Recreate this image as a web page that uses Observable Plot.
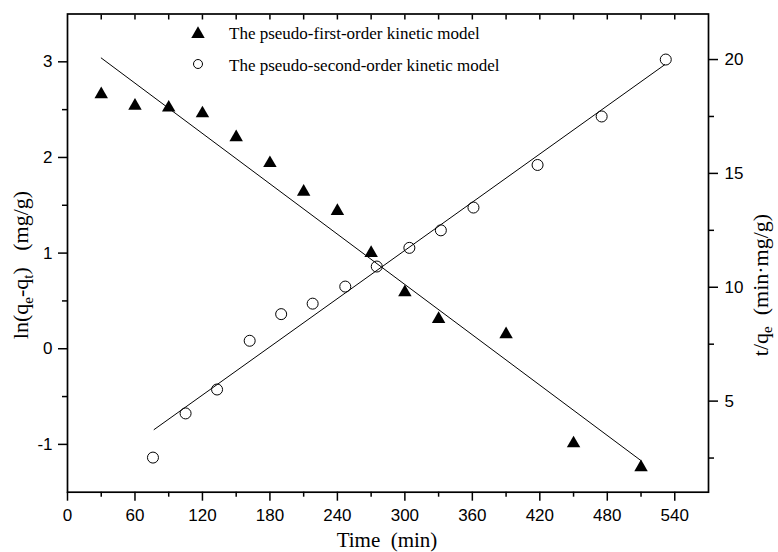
<!DOCTYPE html>
<html><head><meta charset="utf-8">
<script src="https://cdn.jsdelivr.net/npm/d3@7"></script>
<script src="https://cdn.jsdelivr.net/npm/@observablehq/plot@0.6"></script>
<style>
body{margin:0;background:#fff}
#chart{position:relative;width:778px;height:552px}
</style>
</head><body><div id="chart"></div>
<script>
// pseudo-first-order: ln(qe-qt) vs time (left axis)
const timeFirst = [30, 60, 90, 120, 150, 180, 210, 240, 270, 300, 330, 390, 450, 510];
const lnFirst   = [2.66, 2.54, 2.52, 2.46, 2.21, 1.94, 1.64, 1.44, 1.00, 0.59, 0.31, 0.15, -0.99, -1.24];
// pseudo-second-order: t/qt vs time (right axis)
const timeSecond = [76, 105, 133, 162, 190, 218, 247, 275, 304, 332, 361, 418, 475, 532];
const tqSecond   = [2.52, 4.46, 5.51, 7.65, 8.82, 9.28, 10.03, 10.91, 11.73, 12.50, 13.50, 15.37, 17.50, 20.00];
// fitted lines (end points)
const fitFirstX  = [30, 510];
const fitFirstY  = [3.04, -1.17];
const fitSecondX = [77, 531];
const fitSecondY = [3.75, 19.77];
// ticks
const xMajor = [0, 60, 120, 180, 240, 300, 360, 420, 480, 540];
const xMinor = [30, 90, 150, 210, 270, 330, 390, 450, 510];
const xTop   = [30, 60, 90, 120, 150, 180, 210, 240, 270, 300, 330, 360, 390, 420, 450, 480, 510, 540];
const yLeftMajor = [-1, 0, 1, 2, 3];
const yLeftMinor = [-0.5, 0.5, 1.5, 2.5];
const yRightMajor = [5, 10, 15, 20];
const yRightMinor = [2.5, 7.5, 12.5, 17.5];
const legendLabels = ["The pseudo-first-order kinetic model", "The pseudo-second-order kinetic model"];

const first = timeFirst.map((t, i) => ({t, v: lnFirst[i]}));
const second = timeSecond.map((t, i) => ({t, v: tqSecond[i]}));
const fit1 = fitFirstX.map((t, i) => ({t, v: fitFirstY[i]}));
const fit2 = fitSecondX.map((t, i) => ({t, v: fitSecondY[i]}));

const W = 778, H = 552;
const common = {width: W, height: H, marginLeft: 67, marginRight: 70, marginTop: 13.5, marginBottom: 60.3};
const blank = () => "";
const plain = (d) => String(d);

const svg1 = Plot.plot({
  ...common,
  x: {domain: [0, 570]},
  y: {domain: [-1.5, 3.5]},
  marks: [
    Plot.axisX(xMajor, {tickSize: 9, tickPadding: 8, fontSize: 17, tickFormat: plain, strokeWidth: 1.5, label: null}),
    Plot.axisX(xMinor, {tickSize: 5, tickFormat: blank, strokeWidth: 1.5, label: null}),
    Plot.axisX(xTop, {anchor: "top", tickSize: 5, dy: 5, tickFormat: blank, strokeWidth: 1.5, label: null}),
    Plot.axisY(yLeftMajor, {tickSize: 9, tickPadding: 6, fontSize: 17, tickFormat: plain, strokeWidth: 1.5, label: null}),
    Plot.axisY(yLeftMinor, {tickSize: 5, tickFormat: blank, strokeWidth: 1.5, label: null}),
    Plot.line(fit1, {x: "t", y: "v", stroke: "black", strokeWidth: 1}),
    Plot.dot(first, {x: "t", y: "v", symbol: "triangle", r: 5, fill: "black", stroke: null}),
    Plot.frame({stroke: "black", strokeWidth: 1.7})
  ]
});

const svg2 = Plot.plot({
  ...common,
  x: {domain: [0, 570], axis: null},
  y: {domain: [1, 22]},
  marks: [
    Plot.axisY(yRightMajor, {anchor: "right", tickSize: 9, tickPadding: 7, fontSize: 17, tickFormat: plain, strokeWidth: 1.5, label: null}),
    Plot.axisY(yRightMinor, {anchor: "right", tickSize: 5, tickFormat: blank, strokeWidth: 1.5, label: null}),
    Plot.line(fit2, {x: "t", y: "v", stroke: "black", strokeWidth: 1}),
    Plot.dot(second, {x: "t", y: "v", r: 5.5, fill: "none", stroke: "black", strokeWidth: 1})
  ]
});

for (const s of [svg1, svg2]) {
  s.style.fontFamily = "'Liberation Sans', Arial, sans-serif";
  s.style.color = "black";
  s.style.maxWidth = "none";
  // tick labels: Arial-like, 17px
  d3.select(s).selectAll("text")
    .attr("font-size", 17)
    .style("font-size", "17px")
    .style("font-family", "'Liberation Sans', Arial, sans-serif");
  d3.select(s).selectAll("g").filter(function() { return this.getAttribute("font-size"); })
    .attr("font-size", 17);
}
svg1.style.background = "white";
svg2.style.position = "absolute";
svg2.style.left = "0px";
svg2.style.top = "0px";
svg2.style.background = "transparent";

const chart = document.getElementById("chart");
chart.appendChild(svg1);
chart.appendChild(svg2);

const g = d3.select(svg2).append("g")
  .attr("font-family", "'Liberation Serif', 'Times New Roman', serif")
  .attr("text-anchor", "start")
  .attr("fill", "black");

// x title
g.append("text").attr("x", 387).attr("y", 547).attr("text-anchor", "middle")
  .attr("font-size", 21).style("white-space", "pre").text("Time  (min)");

// left title
const lt = g.append("text").attr("transform", "translate(28,265) rotate(-90)")
  .attr("text-anchor", "middle").attr("font-size", 22).style("white-space", "pre");
lt.append("tspan").text("ln(q");
lt.append("tspan").attr("dy", 5).attr("font-size", 15).text("e");
lt.append("tspan").attr("dy", -5).text("-q");
lt.append("tspan").attr("dy", 5).attr("font-size", 15).text("t");
lt.append("tspan").attr("dy", -5).text(")   (mg/g)");

// right title
const rt = g.append("text").attr("transform", "translate(768,285) rotate(-90)")
  .attr("text-anchor", "middle").attr("font-size", 22).style("white-space", "pre");
rt.append("tspan").text("t/q");
rt.append("tspan").attr("dy", 4).attr("font-size", 15).text("e");
rt.append("tspan").attr("dy", -4).text("  (min\u00B7mg/g)");

// legend
g.append("path").attr("d", d3.symbol(d3.symbolTriangle, Math.PI * 25)()).attr("transform", "translate(198,34)");
g.append("circle").attr("cx", 198).attr("cy", 64).attr("r", 4.5).attr("fill", "none").attr("stroke", "black");
g.append("text").attr("x", 229).attr("y", 38.5).attr("font-size", 17).text(legendLabels[0]);
g.append("text").attr("x", 229).attr("y", 70.5).attr("font-size", 17).text(legendLabels[1]);
</script>
</body></html>
